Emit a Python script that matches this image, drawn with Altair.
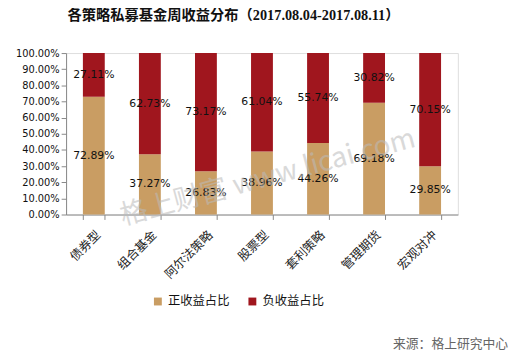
import altair as alt
import pandas as pd

categories = ["债券型", "组合基金", "阿尔法策略", "股票型", "套利策略", "管理期货", "宏观对冲"]
positive = [72.89, 37.27, 26.83, 38.96, 44.26, 69.18, 29.85]
negative = [27.11, 62.73, 73.17, 61.04, 55.74, 30.82, 70.15]
series = ["正收益占比", "负收益占比"]
colors = ["#C99D63", "#A0161E"]
y_ticks = [0, 0.1, 0.2, 0.3, 0.4, 0.5, 0.6, 0.7, 0.8, 0.9, 1.0]

rows = []
for c, p, n in zip(categories, positive, negative):
    rows.append({"category": c, "series": series[0], "value": p / 100, "ord": 0})
    rows.append({"category": c, "series": series[1], "value": n / 100, "ord": 1})
df = pd.DataFrame(rows)

W, H = 398, 164
font = "DejaVu Sans"
cjk = "Noto Sans CJK SC"

base = alt.Chart(df).transform_stack(
    stack="value", groupby=["category"], as_=["y0", "y1"],
    sort=[alt.SortField("ord", order="ascending")]
).transform_calculate(mid="(datum.y0 + datum.y1) / 2")

xscale = alt.Scale(paddingInner=0.61, paddingOuter=0.3)
yscale = alt.Scale(domain=[0, 1], nice=False)

xaxis = alt.Axis(labelAngle=-45, labelFont=cjk, labelFontSize=12.5,
                 labelColor="#222", domainColor="#888", tickColor="#888",
                 tickSize=5, labelPadding=9, bandPosition=0, tickBand="extent")
yaxis = alt.Axis(values=y_ticks, format=".2%", labelFont=font, labelFontSize=10,
                 labelColor="#111", grid=False, domainColor="#888",
                 tickColor="#888", tickSize=5, labelOverlap=False, labelFlush=False)

bars = base.mark_bar().encode(
    x=alt.X("category:N", sort=categories, title=None, scale=xscale, axis=xaxis),
    y=alt.Y("y0:Q", title=None, scale=yscale, axis=yaxis),
    y2="y1:Q",
    color=alt.Color("series:N", sort=series,
                    scale=alt.Scale(domain=series, range=colors),
                    legend=alt.Legend(title=None, orient="none", legendX=87, legendY=246,
                                      direction="horizontal", symbolType="square",
                                      symbolSize=64, labelFont=cjk, labelFontSize=12.5,
                                      labelColor="#111", columnPadding=16,
                                      symbolStrokeWidth=0, labelOffset=4)),
)

labels = base.mark_text(font=font, fontSize=11, color="#111").encode(
    x=alt.X("category:N", sort=categories, title=None, scale=xscale, axis=xaxis),
    y=alt.Y("mid:Q", title=None, scale=yscale, axis=yaxis),
    text=alt.Text("value:Q", format=".2%"),
)

anno = pd.DataFrame({"t": ["各策略私募基金周收益分布（2017.08.04-2017.08.11）"]})
title = alt.Chart(anno).mark_text(
    font="Liberation Serif, Noto Sans CJK SC", fontSize=14.5, fontWeight="bold", color="#111"
).encode(text="t:N", x=alt.value(170), y=alt.value(-37.5))

src = pd.DataFrame({"t": ["来源：格上研究中心"]})
source = alt.Chart(src).mark_text(
    font=cjk, fontSize=13, color="#666", align="right"
).encode(text="t:N", x=alt.value(449), y=alt.value(296))

wm = pd.DataFrame({"t": ["格上财富 www.licai.com"]})
watermark = alt.Chart(wm).mark_text(
    font=cjk, fontSize=28, color="#bbbbbb", opacity=0.55, angle=345
).encode(text="t:N", x=alt.value(205), y=alt.value(127))

chart = alt.layer(bars, labels, watermark, title, source).properties(
    width=W, height=H,
    autosize=alt.AutoSizeParams(type="none"),
    padding={"left": 59, "top": 43, "right": 56, "bottom": 144},
).configure_view(stroke=None).configure(background="white")

chart.save("out.html", embed_options={"renderer": "svg", "actions": False})
